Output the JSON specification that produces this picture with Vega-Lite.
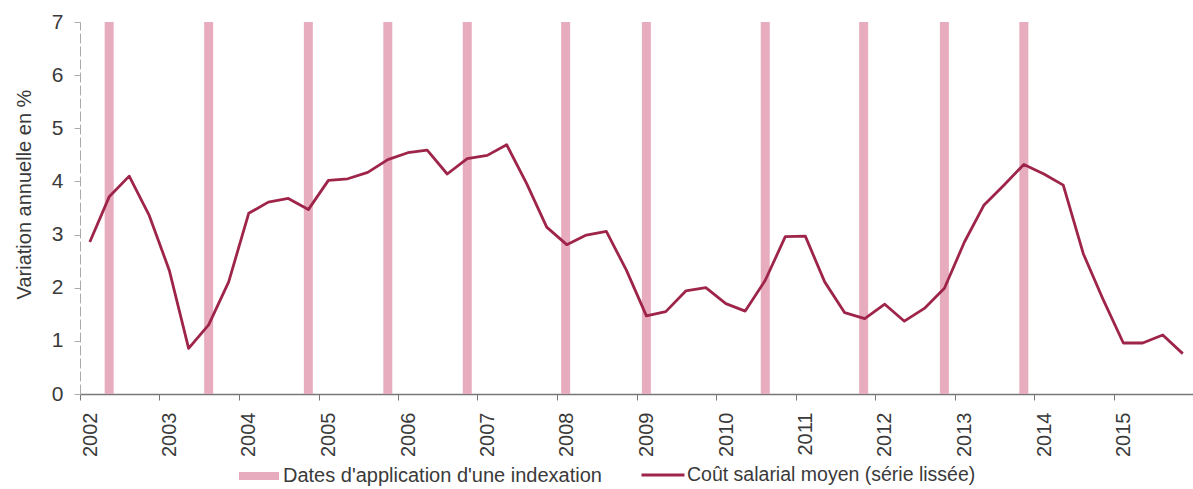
{
  "$schema": "https://vega.github.io/schema/vega-lite/v6.json",
  "autosize": {"type": "none"},
  "padding": {"left": 80, "top": 22, "right": 0, "bottom": 95},
  "width": 1113,
  "height": 372,
  "background": "white",
  "config": {
    "view": {"stroke": null},
    "font": "Liberation Sans",
    "axis": {"labelFont": "Liberation Sans", "titleFont": "Liberation Sans", "labelColor": "#3a3a3a", "titleColor": "#3a3a3a"},
    "legend": {"labelFont": "Liberation Sans", "labelColor": "#3a3a3a", "labelLimit": 0}
  },
  "datasets": {
    "indexations": [
      {"date": "2002-05-15", "serie": "Dates d'application d'une indexation"},
      {"date": "2003-08-15", "serie": "Dates d'application d'une indexation"},
      {"date": "2004-11-15", "serie": "Dates d'application d'une indexation"},
      {"date": "2005-11-15", "serie": "Dates d'application d'une indexation"},
      {"date": "2006-11-15", "serie": "Dates d'application d'une indexation"},
      {"date": "2008-02-10", "serie": "Dates d'application d'une indexation"},
      {"date": "2009-02-15", "serie": "Dates d'application d'une indexation"},
      {"date": "2010-08-15", "serie": "Dates d'application d'une indexation"},
      {"date": "2011-11-10", "serie": "Dates d'application d'une indexation"},
      {"date": "2012-11-15", "serie": "Dates d'application d'une indexation"},
      {"date": "2013-11-15", "serie": "Dates d'application d'une indexation"}
    ],
    "cout": [
      {"date": "2002-02-15", "variation": 2.86, "serie": "Coût salarial moyen (série lissée)"},
      {"date": "2002-05-15", "variation": 3.71, "serie": "Coût salarial moyen (série lissée)"},
      {"date": "2002-08-15", "variation": 4.10, "serie": "Coût salarial moyen (série lissée)"},
      {"date": "2002-11-15", "variation": 3.36, "serie": "Coût salarial moyen (série lissée)"},
      {"date": "2003-02-15", "variation": 2.33, "serie": "Coût salarial moyen (série lissée)"},
      {"date": "2003-05-15", "variation": 0.86, "serie": "Coût salarial moyen (série lissée)"},
      {"date": "2003-08-15", "variation": 1.30, "serie": "Coût salarial moyen (série lissée)"},
      {"date": "2003-11-15", "variation": 2.11, "serie": "Coût salarial moyen (série lissée)"},
      {"date": "2004-02-15", "variation": 3.40, "serie": "Coût salarial moyen (série lissée)"},
      {"date": "2004-05-15", "variation": 3.61, "serie": "Coût salarial moyen (série lissée)"},
      {"date": "2004-08-15", "variation": 3.68, "serie": "Coût salarial moyen (série lissée)"},
      {"date": "2004-11-15", "variation": 3.47, "serie": "Coût salarial moyen (série lissée)"},
      {"date": "2005-02-15", "variation": 4.02, "serie": "Coût salarial moyen (série lissée)"},
      {"date": "2005-05-15", "variation": 4.05, "serie": "Coût salarial moyen (série lissée)"},
      {"date": "2005-08-15", "variation": 4.17, "serie": "Coût salarial moyen (série lissée)"},
      {"date": "2005-11-15", "variation": 4.41, "serie": "Coût salarial moyen (série lissée)"},
      {"date": "2006-02-15", "variation": 4.54, "serie": "Coût salarial moyen (série lissée)"},
      {"date": "2006-05-15", "variation": 4.59, "serie": "Coût salarial moyen (série lissée)"},
      {"date": "2006-08-15", "variation": 4.14, "serie": "Coût salarial moyen (série lissée)"},
      {"date": "2006-11-15", "variation": 4.43, "serie": "Coût salarial moyen (série lissée)"},
      {"date": "2007-02-15", "variation": 4.49, "serie": "Coût salarial moyen (série lissée)"},
      {"date": "2007-05-15", "variation": 4.69, "serie": "Coût salarial moyen (série lissée)"},
      {"date": "2007-08-15", "variation": 3.96, "serie": "Coût salarial moyen (série lissée)"},
      {"date": "2007-11-15", "variation": 3.14, "serie": "Coût salarial moyen (série lissée)"},
      {"date": "2008-02-15", "variation": 2.81, "serie": "Coût salarial moyen (série lissée)"},
      {"date": "2008-05-15", "variation": 2.99, "serie": "Coût salarial moyen (série lissée)"},
      {"date": "2008-08-15", "variation": 3.06, "serie": "Coût salarial moyen (série lissée)"},
      {"date": "2008-11-15", "variation": 2.33, "serie": "Coût salarial moyen (série lissée)"},
      {"date": "2009-02-15", "variation": 1.47, "serie": "Coût salarial moyen (série lissée)"},
      {"date": "2009-05-15", "variation": 1.55, "serie": "Coût salarial moyen (série lissée)"},
      {"date": "2009-08-15", "variation": 1.94, "serie": "Coût salarial moyen (série lissée)"},
      {"date": "2009-11-15", "variation": 2.00, "serie": "Coût salarial moyen (série lissée)"},
      {"date": "2010-02-15", "variation": 1.70, "serie": "Coût salarial moyen (série lissée)"},
      {"date": "2010-05-15", "variation": 1.56, "serie": "Coût salarial moyen (série lissée)"},
      {"date": "2010-08-15", "variation": 2.14, "serie": "Coût salarial moyen (série lissée)"},
      {"date": "2010-11-15", "variation": 2.96, "serie": "Coût salarial moyen (série lissée)"},
      {"date": "2011-02-15", "variation": 2.97, "serie": "Coût salarial moyen (série lissée)"},
      {"date": "2011-05-15", "variation": 2.11, "serie": "Coût salarial moyen (série lissée)"},
      {"date": "2011-08-15", "variation": 1.53, "serie": "Coût salarial moyen (série lissée)"},
      {"date": "2011-11-15", "variation": 1.42, "serie": "Coût salarial moyen (série lissée)"},
      {"date": "2012-02-15", "variation": 1.69, "serie": "Coût salarial moyen (série lissée)"},
      {"date": "2012-05-15", "variation": 1.37, "serie": "Coût salarial moyen (série lissée)"},
      {"date": "2012-08-15", "variation": 1.61, "serie": "Coût salarial moyen (série lissée)"},
      {"date": "2012-11-15", "variation": 1.99, "serie": "Coût salarial moyen (série lissée)"},
      {"date": "2013-02-15", "variation": 2.86, "serie": "Coût salarial moyen (série lissée)"},
      {"date": "2013-05-15", "variation": 3.55, "serie": "Coût salarial moyen (série lissée)"},
      {"date": "2013-08-15", "variation": 3.93, "serie": "Coût salarial moyen (série lissée)"},
      {"date": "2013-11-15", "variation": 4.32, "serie": "Coût salarial moyen (série lissée)"},
      {"date": "2014-02-15", "variation": 4.14, "serie": "Coût salarial moyen (série lissée)"},
      {"date": "2014-05-15", "variation": 3.93, "serie": "Coût salarial moyen (série lissée)"},
      {"date": "2014-08-15", "variation": 2.64, "serie": "Coût salarial moyen (série lissée)"},
      {"date": "2014-11-15", "variation": 1.77, "serie": "Coût salarial moyen (série lissée)"},
      {"date": "2015-02-15", "variation": 0.96, "serie": "Coût salarial moyen (série lissée)"},
      {"date": "2015-05-15", "variation": 0.96, "serie": "Coût salarial moyen (série lissée)"},
      {"date": "2015-08-15", "variation": 1.11, "serie": "Coût salarial moyen (série lissée)"},
      {"date": "2015-11-15", "variation": 0.76, "serie": "Coût salarial moyen (série lissée)"}
    ]
  },
  "layer": [
    {
      "data": {"name": "indexations"},
      "mark": {"type": "rule", "strokeWidth": 9, "opacity": 0.95},
      "encoding": {
        "x": {
          "field": "date",
          "type": "temporal",
          "scale": {"type": "utc", "domain": [{"year": 2002, "month": 1, "date": 1, "utc": true}, {"year": 2016, "month": 1, "date": 1, "utc": true}]},
          "axis": {
            "title": null,
            "values": [
              {"year": 2002, "month": 1, "date": 1, "utc": true},
              {"year": 2003, "month": 1, "date": 1, "utc": true},
              {"year": 2004, "month": 1, "date": 1, "utc": true},
              {"year": 2005, "month": 1, "date": 1, "utc": true},
              {"year": 2006, "month": 1, "date": 1, "utc": true},
              {"year": 2007, "month": 1, "date": 1, "utc": true},
              {"year": 2008, "month": 1, "date": 1, "utc": true},
              {"year": 2009, "month": 1, "date": 1, "utc": true},
              {"year": 2010, "month": 1, "date": 1, "utc": true},
              {"year": 2011, "month": 1, "date": 1, "utc": true},
              {"year": 2012, "month": 1, "date": 1, "utc": true},
              {"year": 2013, "month": 1, "date": 1, "utc": true},
              {"year": 2014, "month": 1, "date": 1, "utc": true},
              {"year": 2015, "month": 1, "date": 1, "utc": true}
            ],
            "format": "%Y",
            "grid": false,
            "labelAngle": 270,
            "labelAlign": "right",
            "labelBaseline": "middle",
            "labelOffset": 10,
            "labelFlush": false,
            "labelOverlap": false,
            "labelFontSize": 20,
            "labelPadding": 12,
            "tickSize": 6,
            "tickColor": "#777777",
            "domainColor": "#777777",
            "domainWidth": 1.5
          }
        },
        "y": {"datum": 0, "type": "quantitative"},
        "y2": {"datum": 7},
        "color": {
          "field": "serie",
          "type": "nominal",
          "scale": {"domain": ["Dates d'application d'une indexation"], "range": ["#e6a9bc"]},
          "legend": {
            "title": null,
            "orient": "none",
            "legendX": 155,
            "legendY": 430,
            "padding": 0,
            "symbolType": "stroke",
            "symbolSize": 1600,
            "symbolStrokeWidth": 8,
            "labelFontSize": 20,
            "labelOffset": 0
          }
        }
      }
    },
    {
      "data": {"name": "cout"},
      "mark": {"type": "line", "strokeWidth": 2.8, "strokeJoin": "round"},
      "encoding": {
        "x": {"field": "date", "type": "temporal"},
        "y": {
          "field": "variation",
          "type": "quantitative",
          "scale": {"domain": [0, 7], "nice": false, "zero": false},
          "axis": {
            "title": "Variation annuelle en %",
            "titleFontSize": 20,
            "titleFontWeight": "normal",
            "titleAngle": 270,
            "titleAlign": "center",
            "titleBaseline": "alphabetic",
            "titleX": -50,
            "titleY": 172,
            "values": [0, 1, 2, 3, 4, 5, 6, 7],
            "format": "d",
            "grid": false,
            "labelFontSize": 21,
            "labelPadding": 11,
            "tickSize": 6,
            "tickColor": "#aaaaaa",
            "domainColor": "#aaaaaa",
            "domainDash": [10, 3]
          }
        },
        "color": {
          "field": "serie",
          "type": "nominal",
          "scale": {"domain": ["Coût salarial moyen (série lissée)"], "range": ["#9e2549"]},
          "legend": {
            "title": null,
            "orient": "none",
            "legendX": 560,
            "legendY": 430,
            "padding": 0,
            "symbolType": "stroke",
            "symbolSize": 1849,
            "symbolStrokeWidth": 3,
            "labelFontSize": 19.5,
            "labelOffset": 1
          }
        }
      }
    }
  ],
  "resolve": {"scale": {"color": "independent"}}
}
